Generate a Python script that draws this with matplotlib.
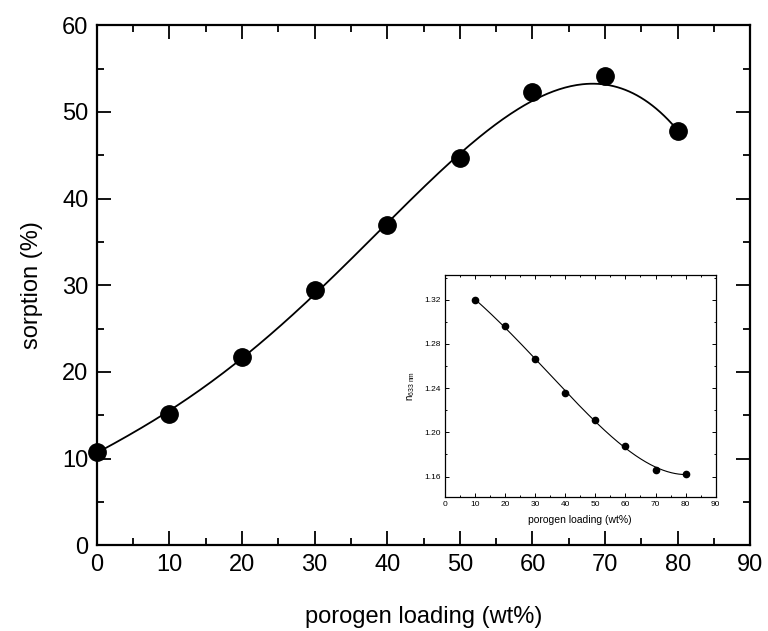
import numpy as np
import matplotlib
matplotlib.use("Agg")
import matplotlib.pyplot as plt
from matplotlib.ticker import MultipleLocator

plt.rcParams['font.family'] = ['Liberation Sans', 'DejaVu Sans']

# main data
loading = [0, 10, 20, 30, 40, 50, 60, 70, 80]
sorption = [10.8, 15.1, 21.7, 29.5, 36.9, 44.7, 52.3, 54.1, 47.8]

# inset data
inset_loading = [10, 20, 30, 40, 50, 60, 70, 80]
refr_index = [1.320, 1.2965, 1.266, 1.2355, 1.211, 1.188, 1.166, 1.1625]

fig = plt.figure(figsize=(7.68, 6.31), dpi=100)
ax = fig.add_axes([0.126, 0.136, 0.851, 0.824])

# smooth fit curve
w = [1, 1, 1, 1, 1, 1, 0.6, 0.2, 1]
coef = np.polyfit(loading, sorption, 4, w=w)
xs = np.linspace(0, 80, 300)
ax.plot(xs, np.polyval(coef, xs), color='black', lw=1.3, zorder=2)
ax.plot(loading, sorption, 'o', color='black', ms=12.5, zorder=3, clip_on=False)

ax.set_xlim(0, 90)
ax.set_ylim(0, 60)
ax.xaxis.set_major_locator(MultipleLocator(10))
ax.xaxis.set_minor_locator(MultipleLocator(5))
ax.yaxis.set_major_locator(MultipleLocator(10))
ax.yaxis.set_minor_locator(MultipleLocator(5))
ax.tick_params(which='both', direction='in', top=True, right=True, width=1.3)
ax.tick_params(which='major', length=10, labelsize=17, pad=6)
ax.tick_params(which='minor', length=5)
for s in ax.spines.values():
    s.set_linewidth(1.6)
ax.set_xlabel('porogen loading (wt%)', fontsize=17, labelpad=22)
ax.set_ylabel('sorption (%)', fontsize=17, labelpad=14)

# inset
ins = fig.add_axes([0.579, 0.2124, 0.353, 0.352])
icoef = np.polyfit(inset_loading, refr_index, 4)
xi = np.linspace(10, 80, 300)
ins.plot(xi, np.polyval(icoef, xi), color='black', lw=0.8, zorder=2)
ins.plot(inset_loading, refr_index, 'o', color='black', ms=4.5, zorder=3)
ins.set_xlim(0, 90)
ins.set_ylim(1.1415, 1.3425)
ins.xaxis.set_major_locator(MultipleLocator(10))
ins.xaxis.set_minor_locator(MultipleLocator(5))
ins.set_yticks([1.16, 1.20, 1.24, 1.28, 1.32])
ins.yaxis.set_minor_locator(MultipleLocator(0.02))
ins.tick_params(which='both', direction='in', top=True, right=True, width=0.7)
ins.tick_params(which='major', length=3, labelsize=6, pad=3)
ins.tick_params(which='minor', length=1.5)
for s in ins.spines.values():
    s.set_linewidth(0.9)
ins.set_xlabel('porogen loading (wt%)', fontsize=7.5, labelpad=5)
ins.set_ylabel(r'n$_{\mathregular{633\ nm}}$', fontsize=7, labelpad=5)

fig.savefig('out.png', dpi=100)
